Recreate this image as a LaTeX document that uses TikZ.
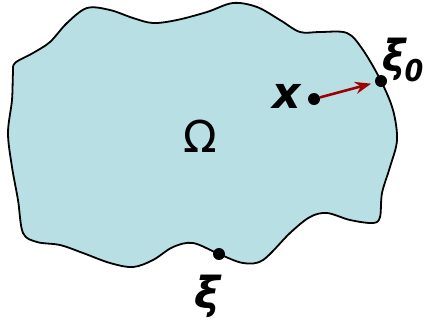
\documentclass[tikz,border=0pt]{standalone}
\usepackage{fontspec}
\setmainfont{DejaVu Sans}
\newfontfamily\condfont{DejaVu Sans Condensed}
\usetikzlibrary{arrows.meta}
\definecolor{domainblue}{RGB}{184,224,228}
\definecolor{rayred}{RGB}{160,0,0}

\begin{document}
\begin{tikzpicture}[x=1pt,y=-1pt,spot/.style={circle,fill=black,inner sep=0pt,minimum size=12pt},lbl/.style={font=\fontsize{44}{50}\selectfont\bfseries\itshape},ray/.style={-{Stealth[length=16pt,width=12pt]},line width=2.6pt,rayred,shorten >=4pt}]
\useasboundingbox (0,0) rectangle (425,333);
% boundary of the domain
\draw[line width=1.8pt,fill=domainblue] plot[smooth cycle,tension=0.55] coordinates {
(15,63) (33,53) (50,42) (67,23) (87,8) (110,10) (133,18) (153,23) (177,20)
(207,12) (233,3) (257,7) (280,20) (300,32) (320,32) (347,33) (363,50) (381,81)
(393,110) (397,140) (390,167) (382,193) (380,217) (373,223) (350,220) (327,213)
(310,217) (290,233) (263,260) (243,263) (219,254) (193,243) (173,247) (153,260)
(133,267) (110,263) (83,253) (60,245) (37,242) (23,233) (18,200) (12,167)
(8,133) (12,100) (13,73)};
\node[spot] (x) at (314,99) {};
\node[spot] (xi0) at (381,81) {};
\node[spot] (xi) at (219,254) {};
\node[font=\fontsize{44}{50}\selectfont] (omega) at (200,136) {Ω};
\node[lbl] (xlbl) at (287,96) {x};
\node[lbl,anchor=west,inner sep=0pt] (xi0lbl) at (382,60) {\condfont ξ\kern-1pt\raisebox{-10pt}{\fontsize{30}{36}\selectfont 0}};
\node[lbl] (xilbl) at (207,296) {ξ};
\draw[ray] (x) -- (xi0);
\end{tikzpicture}
\end{document}
